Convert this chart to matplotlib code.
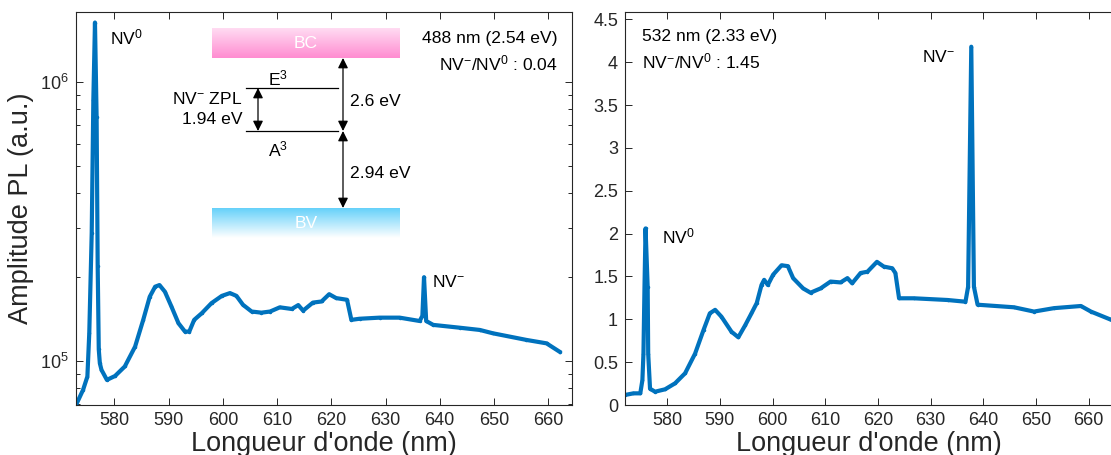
import numpy as np
import matplotlib
matplotlib.use("Agg")
import matplotlib.pyplot as plt
from matplotlib.ticker import LogLocator, FixedLocator, FormatStrFormatter, NullFormatter

plt.rcParams['font.family'] = ['Liberation Sans', 'DejaVu Sans']
plt.rcParams['mathtext.fontset'] = 'custom'
plt.rcParams['mathtext.rm'] = 'Liberation Sans'
plt.rcParams['mathtext.it'] = 'Liberation Sans:italic'
plt.rcParams['mathtext.bf'] = 'Liberation Sans:bold'

# ---------------- data ----------------
# 488 nm excitation (log scale, a.u.)
wl_488 = [572.9, 574.2, 575.0, 575.35, 575.8, 576.1, 576.4, 576.7, 576.9, 577.1,
          577.3, 577.6, 578.6, 580.1, 581.9, 583.8, 585.3, 586.5, 587.5, 588.3,
          589.3, 590.5, 591.8, 593.0, 593.8, 594.7, 596.1, 597.9, 599.8, 601.3,
          602.5, 603.7, 605.3, 607.1, 608.7, 610.5, 612.7, 613.9, 614.8, 616.6,
          618.2, 619.6, 620.9, 622.9, 623.7, 625.2, 628.9, 632.6, 636.3, 636.8,
          637.1, 637.5, 638.8, 643.7, 647.4, 649.8, 656.0, 659.7, 662.1]
pl_488 = [69500, 78700, 87900, 126000, 288000, 861000, 1632000, 750000, 219000, 110000,
          98000, 92900, 85500, 88300, 95500, 112500, 140300, 169800, 184500, 187000,
          177000, 156700, 136500, 127400, 127400, 140300, 148200, 161100, 171000, 175000,
          171000, 158900, 150300, 148900, 150300, 155600, 153500, 158500, 151400, 161800,
          163300, 173400, 167900, 165600, 140300, 141600, 142900, 142900, 139000, 145000,
          199500, 139000, 134600, 131500, 129100, 125600, 118900, 115600, 107900]

# 532 nm excitation (linear scale, a.u.)
wl_532 = [572.0, 573.6, 574.9, 575.3, 575.5, 575.7, 575.9, 576.3, 576.4, 576.75,
          577.7, 579.6, 581.5, 583.4, 585.3, 586.9, 588.1, 589.1, 590.3, 592.2,
          593.5, 594.8, 596.0, 597.0, 597.9, 598.4, 599.1, 600.1, 601.7, 602.9,
          603.9, 605.8, 607.2, 609.1, 611.0, 612.9, 614.2, 615.1, 616.7, 618.0,
          619.8, 621.1, 622.7, 623.3, 624.0, 626.8, 633.2, 636.6, 637.1, 637.7,
          638.2, 638.9, 645.8, 649.6, 653.4, 658.5, 660.4, 664.0]
pl_532 = [0.117, 0.136, 0.136, 0.29, 0.60, 1.38, 2.06, 1.38, 0.60, 0.19,
          0.155, 0.183, 0.253, 0.37, 0.60, 0.875, 1.07, 1.11, 1.03, 0.855,
          0.79, 0.93, 1.07, 1.19, 1.40, 1.46, 1.40, 1.52, 1.63, 1.62,
          1.48, 1.36, 1.31, 1.36, 1.44, 1.43, 1.48, 1.42, 1.54, 1.555,
          1.67, 1.615, 1.595, 1.54, 1.245, 1.245, 1.225, 1.205, 1.38, 4.18,
          1.38, 1.17, 1.14, 1.09, 1.13, 1.155, 1.09, 1.0]

xticks = [580, 590, 600, 610, 620, 630, 640, 650, 660]
yticks_532 = [0, 0.5, 1, 1.5, 2, 2.5, 3, 3.5, 4, 4.5]

# ---------------- figure ----------------
W, H = 1111, 455
fig = plt.figure(figsize=(W / 100, H / 100), dpi=100)

def fax(x0, y0, x1, y1):
    # pixel box (top-left origin) -> figure fraction rect
    return [x0 / W, 1 - y1 / H, (x1 - x0) / W, (y1 - y0) / H]

blue = '#0072BD'
dark = '#262626'
tick_fs = 13
lab_fs = 19.5
txt_fs = 12.6

def style(ax):
    for s in ax.spines.values():
        s.set_color(dark)
        s.set_linewidth(0.8)
    ax.tick_params(which='both', direction='in', top=True, right=True,
                   colors=dark, labelsize=tick_fs, width=0.7)
    ax.tick_params(which='major', length=5)
    ax.tick_params(which='minor', length=3)
    ax.tick_params(axis='x', pad=5)
    ax.tick_params(axis='y', pad=5)

# Left axes
ax1 = fig.add_axes(fax(76, 12, 572, 405))
ax1.plot(wl_488, pl_488, color=blue, lw=3.0, marker='.', ms=3, mfc=blue, mec=blue)
ax1.set_yscale('log')
ax1.set_xlim(572.9, 664.4)
ax1.set_ylim(69500, 1.78e6)
ax1.xaxis.set_major_locator(FixedLocator(xticks))
ax1.yaxis.set_major_locator(LogLocator(base=10))
ax1.yaxis.set_minor_locator(LogLocator(base=10, subs=np.arange(2, 10)))
ax1.yaxis.set_minor_formatter(NullFormatter())
style(ax1)
ax1.set_xlabel("Longueur d'onde (nm)", fontsize=lab_fs, color=dark)
ax1.set_ylabel("Amplitude PL (a.u.)", fontsize=lab_fs, color=dark)
ax1.xaxis.set_label_coords(0.5, -0.066)
ax1.yaxis.set_label_coords(-0.085, 0.5)

# Right axes
ax2 = fig.add_axes(fax(625, 12, 1112, 405))
ax2.plot(wl_532, pl_532, color=blue, lw=3.0, marker='.', ms=3, mfc=blue, mec=blue)
ax2.set_xlim(572.0, 664.4)
ax2.set_ylim(0, 4.585)
ax2.xaxis.set_major_locator(FixedLocator(xticks))
ax2.yaxis.set_major_locator(FixedLocator(yticks_532))
ax2.yaxis.set_major_formatter(FormatStrFormatter('%g'))
style(ax2)
ax2.spines['right'].set_visible(False)
ax2.tick_params(right=False)
ax2.set_xlabel("Longueur d'onde (nm)", fontsize=lab_fs, color=dark)
ax2.xaxis.set_label_coords(0.5, -0.066)

def ftext(x, y, s, ha='left', va='center', **kw):
    fig.text(x / W, 1 - y / H, s, ha=ha, va=va, fontsize=kw.pop('fontsize', txt_fs),
             color=kw.pop('color', 'black'), **kw)

# Left annotations
ftext(110, 37, r'NV$^0$')
ftext(432, 282, r'NV$^{-}$')
ftext(558, 38, '488 nm (2.54 eV)', ha='right')
ftext(558, 63, r'NV$^{-}$/NV$^0$ : 0.04', ha='right')

# Right annotations
ftext(642, 36, '532 nm (2.33 eV)')
ftext(642, 61, r'NV$^{-}$/NV$^0$ : 1.45')
ftext(955, 57, r'NV$^{-}$', ha='right')
ftext(662, 236, r'NV$^0$')

# Energy diagram
def grad_box(x0, y0, x1, y1, c_top, c_bot, label):
    bax = fig.add_axes(fax(x0, y0, x1, y1))
    n = 64
    t = np.linspace(0, 1, n)[:, None]
    c_top = np.array(c_top)
    c_bot = np.array(c_bot)
    img = c_top[None, None, :] * (1 - t[:, :, None]) + c_bot[None, None, :] * t[:, :, None]
    img = np.repeat(img, 4, axis=1)
    bax.imshow(img, aspect='auto', extent=[0, 1, 0, 1])
    bax.set_axis_off()
    bax.text(0.5, 0.5, label, ha='center', va='center', color='white', fontsize=txt_fs,
             transform=bax.transAxes)
    return bax

grad_box(212, 28, 400, 58, (1.0, 0.86, 0.95), (1.0, 0.55, 0.82), 'BC')
grad_box(212, 208, 400, 238, (0.40, 0.82, 0.98), (1.0, 1.0, 1.0), 'BV')

def fline(x0, y0, x1, y1):
    fig.add_artist(plt.Line2D([x0 / W, x1 / W], [1 - y0 / H, 1 - y1 / H],
                              color='black', lw=0.9, transform=fig.transFigure))

fline(246, 88, 338, 88)
fline(246, 131, 338, 131)

def farrow(x, y0, y1):
    fig.add_artist(matplotlib.patches.FancyArrowPatch(
        (x / W, 1 - y0 / H), (x / W, 1 - y1 / H), transform=fig.transFigure,
        arrowstyle='<|-|>,head_length=4,head_width=2', color='black', lw=0.9,
        shrinkA=0, shrinkB=0, mutation_scale=1.5))

farrow(258, 88, 131)
farrow(343, 58, 131)
farrow(343, 131, 208)

ftext(278, 78, r'E$^3$', ha='center')
ftext(278, 149, r'A$^3$', ha='center')
ftext(242, 99, r'NV$^{-}$ ZPL', ha='right')
ftext(242, 120, '1.94 eV', ha='right')
ftext(350, 101, '2.6 eV')
ftext(350, 173, '2.94 eV')

fig.savefig('out.png', dpi=100)
